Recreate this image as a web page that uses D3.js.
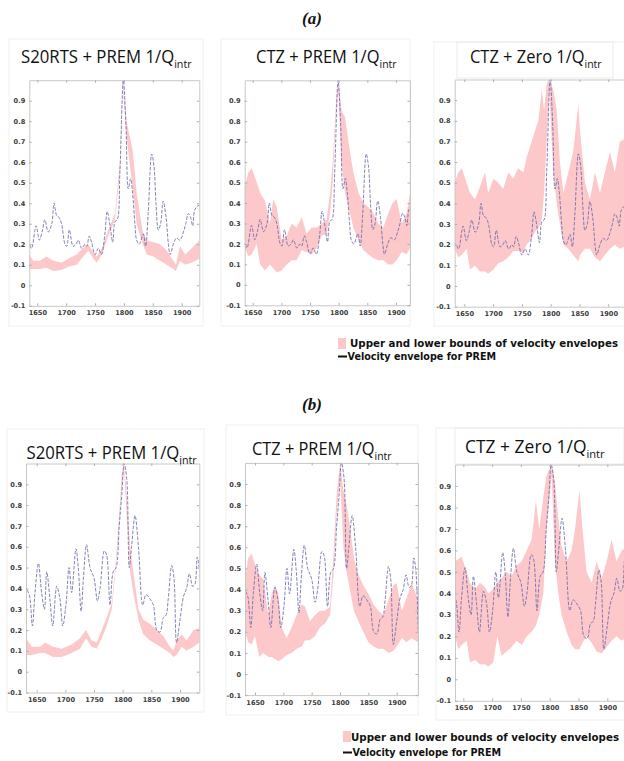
<!DOCTYPE html>
<html><head><meta charset="utf-8">
<script src="https://cdn.jsdelivr.net/npm/d3@7"></script>
<style>body{margin:0;background:#fff;} svg{display:block}</style>
</head><body>
<svg id="c" width="624" height="761"></svg>
<script>
// ---------- DATA ----------
const yTicks = [-0.1, 0, 0.1, 0.2, 0.3, 0.4, 0.5, 0.6, 0.7, 0.8, 0.9];
const yTickLabels = ["-0.1", "0", "0.1", "0.2", "0.3", "0.4", "0.5", "0.6", "0.7", "0.8", "0.9"];
const xTicks = [1650, 1700, 1750, 1800, 1850, 1900];
const xTickLabels = ["1650", "1700", "1750", "1800", "1850", "1900"];
const groupLabels = ["(a)", "(b)"];
const titleMain = ["S20RTS + PREM 1/Q", "CTZ + PREM 1/Q", "CTZ + Zero 1/Q"];
const titleSub = "intr";
const legendLabels = ["Upper and lower bounds of velocity envelopes", "Velocity envelope for PREM"];

// PREM velocity envelope, row (a)
const premAYears = [1630,1636,1640,1648,1653.5,1659,1663,1669,1675,1679,1683.5,1688,1692,1698,1701,1705.5,1712,1717,1721,1727,1732.5,1735.5,1740,1744,1750,1755.5,1761,1767,1771,1776,1780.5,1784.5,1788.5,1793,1799,1803.5,1807.5,1811.5,1815,1819,1822,1826.5,1833.5,1837.5,1842,1848,1852,1855.5,1859.5,1863.5,1868,1873,1877,1880,1885.5,1891,1897,1903,1907,1911.5,1915.5,1919,1923,1930.5,1940];
const premAValues = [0.21,0.20,0.18,0.29,0.22,0.27,0.32,0.26,0.30,0.40,0.34,0.33,0.30,0.20,0.19,0.27,0.19,0.20,0.22,0.18,0.20,0.19,0.24,0.21,0.15,0.18,0.15,0.25,0.36,0.29,0.21,0.31,0.32,0.55,1.0,0.78,0.47,0.52,0.45,0.30,0.22,0.20,0.25,0.19,0.35,0.64,0.58,0.40,0.27,0.30,0.41,0.33,0.20,0.15,0.20,0.23,0.22,0.26,0.30,0.35,0.33,0.29,0.37,0.39,0.36];

// PREM velocity envelope, row (b)
const premBYears = [1628,1631.5,1637,1642.5,1647,1653,1658.5,1663.5,1667.5,1673,1678,1685,1690.5,1695.5,1701,1706.5,1711,1718.5,1722.5,1727.5,1731.5,1737,1743,1750,1756,1760.5,1768,1772,1778,1783.5,1788.5,1794,1798.5,1802.5,1807,1811.5,1815.5,1821.5,1827.5,1835,1840.5,1847.5,1853.5,1859.5,1865,1871,1875.5,1879.5,1885.5,1889.5,1894,1900,1906,1911.5,1916.5,1922,1926,1930,1933.5,1938];
const premBValues = [0.41,0.40,0.37,0.22,0.38,0.52,0.38,0.30,0.48,0.35,0.22,0.41,0.35,0.22,0.32,0.50,0.38,0.59,0.50,0.29,0.45,0.61,0.50,0.45,0.34,0.40,0.58,0.56,0.32,0.48,0.50,0.70,0.85,1.0,0.93,0.50,0.60,0.75,0.60,0.32,0.37,0.35,0.32,0.20,0.19,0.26,0.27,0.35,0.51,0.45,0.14,0.25,0.36,0.40,0.47,0.41,0.42,0.55,0.50,0.20];

// (a) S20RTS + PREM 1/Q bounds
const bandA1Years = [1630,1636,1643,1654.5,1666,1677.5,1692,1703.5,1718,1732.5,1738.5,1747,1753,1761.5,1773,1784.5,1793,1798,1804.5,1815,1822,1832.5,1839.5,1851,1862.5,1874,1885.5,1890,1897,1906,1917,1930.5,1940];
const bandA1Lower = [0.08,0.08,0.08,0.08,0.085,0.07,0.075,0.09,0.10,0.15,0.17,0.13,0.11,0.15,0.24,0.32,0.55,0.97,0.72,0.48,0.30,0.20,0.15,0.14,0.12,0.10,0.08,0.07,0.12,0.10,0.11,0.13,0.13];
const bandA1Upper = [0.15,0.15,0.12,0.12,0.14,0.12,0.11,0.13,0.15,0.19,0.20,0.16,0.14,0.18,0.27,0.35,0.60,1.0,0.80,0.66,0.45,0.26,0.22,0.21,0.20,0.17,0.12,0.10,0.19,0.15,0.18,0.22,0.22];

// (a) CTZ + PREM 1/Q bounds
const bandA2Years = [1630,1636,1642.5,1648.5,1657,1663,1671.5,1680,1686,1692,1700.5,1709.5,1718,1726.5,1735.5,1744,1753,1761.5,1770.5,1779,1785,1789.5,1795.5,1799.5,1805,1811,1817,1825.5,1834.5,1843,1851.5,1860.5,1869,1878,1886.5,1894,1901,1910,1918.5,1924.5,1940];
const bandA2Lower = [0.18,0.18,0.14,0.15,0.20,0.10,0.07,0.10,0.08,0.06,0.07,0.10,0.12,0.12,0.17,0.16,0.15,0.18,0.24,0.25,0.35,0.50,0.85,0.95,0.60,0.45,0.38,0.28,0.22,0.17,0.15,0.13,0.12,0.12,0.10,0.10,0.12,0.16,0.15,0.18,0.18];
const bandA2Upper = [0.46,0.48,0.55,0.57,0.50,0.45,0.41,0.30,0.42,0.38,0.22,0.24,0.30,0.28,0.33,0.25,0.28,0.28,0.30,0.32,0.45,0.60,0.90,1.0,0.85,0.82,0.70,0.55,0.45,0.40,0.38,0.35,0.30,0.28,0.35,0.40,0.42,0.30,0.35,0.45,0.48];

// (a) CTZ + Zero 1/Q bounds
const bandA3Years = [1628,1633,1639.5,1645.5,1654,1660,1668.5,1677,1686,1691.5,1700.5,1709,1717.5,1726.5,1735,1743.5,1752.5,1758,1767,1772.5,1778.5,1784.5,1788.5,1793,1797.5,1804.5,1810.5,1816,1822,1830.5,1839,1848,1851,1859.5,1868,1877,1885.5,1894,1903,1911.5,1920,1935];
const bandA3Lower = [0.18,0.18,0.14,0.15,0.18,0.08,0.10,0.07,0.07,0.06,0.08,0.11,0.12,0.14,0.17,0.17,0.16,0.20,0.23,0.26,0.28,0.32,0.45,0.70,0.95,0.55,0.40,0.30,0.20,0.18,0.15,0.12,0.15,0.18,0.18,0.14,0.12,0.15,0.18,0.20,0.18,0.20];
const bandA3Upper = [0.48,0.50,0.55,0.57,0.50,0.45,0.42,0.48,0.55,0.45,0.52,0.50,0.47,0.55,0.52,0.57,0.55,0.62,0.70,0.75,0.80,0.95,0.85,0.98,1.0,0.95,0.85,0.60,0.45,0.55,0.65,0.88,0.75,0.50,0.42,0.55,0.45,0.55,0.65,0.55,0.70,0.72];

// (b) S20RTS + PREM 1/Q bounds
const bandB1Years = [1628,1631.5,1641.5,1656,1664.5,1679,1693.5,1711,1725.5,1736,1746,1754.5,1763.5,1772,1781,1786.5,1792.5,1798.5,1802.5,1807,1813,1818.5,1827.5,1836,1847.5,1859.5,1871,1882.5,1888.5,1894,1903,1911.5,1923.5,1934,1940];
const bandB1Lower = [0.08,0.08,0.08,0.09,0.09,0.07,0.07,0.09,0.11,0.16,0.12,0.11,0.16,0.22,0.30,0.45,0.65,0.88,0.97,0.75,0.48,0.38,0.25,0.18,0.15,0.13,0.11,0.09,0.07,0.08,0.12,0.10,0.12,0.14,0.14];
const bandB1Upper = [0.16,0.16,0.12,0.12,0.14,0.12,0.11,0.13,0.16,0.20,0.15,0.14,0.20,0.26,0.33,0.48,0.70,0.95,1.0,0.85,0.60,0.48,0.30,0.25,0.23,0.20,0.17,0.12,0.10,0.15,0.18,0.15,0.20,0.21,0.21];

// (b) CTZ + PREM 1/Q bounds
const bandB2Years = [1628,1632.5,1638,1644,1650,1657.5,1664.5,1673.5,1679.5,1685.5,1691,1697,1706,1714.5,1723.5,1732.5,1738,1747,1756,1764.5,1773.5,1782.5,1788,1794,1800,1806,1810.5,1817.5,1824.5,1832.5,1841,1850,1859,1867.5,1876.5,1885.5,1894,1900,1909,1917.5,1926.5,1938,1942];
const bandB2Lower = [0.20,0.20,0.15,0.14,0.18,0.08,0.10,0.08,0.08,0.07,0.06,0.07,0.09,0.10,0.12,0.13,0.16,0.16,0.18,0.22,0.24,0.28,0.45,0.75,0.93,0.60,0.50,0.40,0.30,0.25,0.20,0.15,0.13,0.12,0.12,0.10,0.11,0.13,0.17,0.15,0.17,0.15,0.15];
const bandB2Upper = [0.45,0.45,0.55,0.57,0.52,0.47,0.45,0.28,0.38,0.42,0.38,0.22,0.17,0.22,0.28,0.33,0.32,0.25,0.28,0.30,0.30,0.32,0.55,0.85,1.0,0.87,0.82,0.70,0.55,0.47,0.42,0.38,0.33,0.30,0.28,0.35,0.42,0.43,0.30,0.36,0.43,0.35,0.35];

// (b) CTZ + Zero 1/Q bounds
const bandB3Years = [1628,1635.5,1641.5,1647,1656,1661.5,1670.5,1679,1687.5,1693.5,1702,1709,1716.5,1725,1734,1742.5,1751.5,1760,1768.5,1776,1782,1789,1794.5,1803.5,1809,1815,1820.5,1829.5,1838,1844,1851.5,1857,1864,1873,1881.5,1890,1899,1907.5,1916,1925,1936.5];
const bandB3Lower = [0.20,0.20,0.14,0.16,0.18,0.08,0.09,0.07,0.07,0.06,0.08,0.20,0.11,0.13,0.15,0.18,0.16,0.20,0.22,0.25,0.30,0.40,0.70,0.95,0.55,0.40,0.30,0.22,0.16,0.14,0.14,0.17,0.20,0.17,0.13,0.12,0.15,0.18,0.20,0.18,0.20];
const bandB3Upper = [0.55,0.55,0.56,0.57,0.50,0.45,0.42,0.45,0.43,0.40,0.42,0.45,0.47,0.50,0.48,0.53,0.55,0.60,0.65,0.83,0.70,0.85,0.95,1.0,0.92,0.75,0.62,0.55,0.60,0.70,0.88,0.70,0.50,0.45,0.55,0.47,0.55,0.65,0.55,0.60,0.62];

// ---------- LAYOUT ----------
const BAND_FILL = "#fdc8c9";
const LINE_COLOR = "#6664ae";

const panels = [
  {band:[bandA1Years,bandA1Lower,bandA1Upper], line:[premAYears,premAValues], title:0,
   x0:29.3, x1:199.3, p1650:37.3, p1900:181.7, yTop:80.2, yBot:305.8,
   tx0:21, tx1:192, tBase:63, frame:[9,39,203,326]},
  {band:[bandA2Years,bandA2Lower,bandA2Upper], line:[premAYears,premAValues], title:1,
   x0:244.7, x1:410, p1650:252.7, p1900:396, yTop:80.3, yBot:305.3,
   tx0:256, tx1:397, tBase:63, frame:[221,39,410,326]},
  {band:[bandA3Years,bandA3Lower,bandA3Upper], line:[premAYears,premAValues], title:2,
   x0:454.7, x1:626, p1650:464.3, p1900:608.3, yTop:79.5, yBot:306.7,
   tx0:470, tx1:602, tBase:63, frame:[434,42,630,326], tbox:[457,42,613,78]},
  {band:[bandB1Years,bandB1Lower,bandB1Upper], line:[premBYears,premBValues], title:0,
   x0:26, x1:199.3, p1650:36.7, p1900:180, yTop:463.5, yBot:692.5,
   tx0:26.5, tx1:197, tBase:459, frame:[7,429,204,712]},
  {band:[bandB2Years,bandB2Lower,bandB2Upper], line:[premBYears,premBValues], title:1,
   x0:245, x1:418, p1650:255, p1900:396.7, yTop:462.9, yBot:695.1,
   tx0:252, tx1:392, tBase:455, frame:[226,425,418,715]},
  {band:[bandB3Years,bandB3Lower,bandB3Upper], line:[premBYears,premBValues], title:2,
   x0:455, x1:626, p1650:463.3, p1900:607.3, yTop:464.5, yBot:700.8,
   tx0:465, tx1:605, tBase:453, frame:[436,428,630,720], tbox:[455,428,624,464]}
];

const svg = d3.select("#c");
svg.append("rect").attr("width",624).attr("height",761).attr("fill","#fff");
const defs = svg.append("defs");

panels.forEach((p,i) => {
  const g = svg.append("g");
  g.append("rect").attr("x",p.frame[0]).attr("y",p.frame[1])
    .attr("width",p.frame[2]-p.frame[0]).attr("height",p.frame[3]-p.frame[1])
    .attr("fill","none").attr("stroke","#f0f0f0").attr("stroke-width",1);
  if (p.tbox) {
    g.append("rect").attr("x",p.tbox[0]).attr("y",p.tbox[1])
      .attr("width",p.tbox[2]-p.tbox[0]).attr("height",p.tbox[3]-p.tbox[1])
      .attr("fill","none").attr("stroke","#ebebeb").attr("stroke-width",1);
  }

  const xb = d3.scaleLinear().domain([1650,1900]).range([p.p1650,p.p1900]);
  const x = d3.scaleLinear().domain([xb.invert(p.x0), xb.invert(p.x1)]).range([p.x0,p.x1]);
  const y = d3.scaleLinear().domain([-0.1,1.0]).range([p.yBot,p.yTop]);

  const cid = "clip"+i;
  defs.append("clipPath").attr("id",cid).append("rect")
    .attr("x",p.x0).attr("y",p.yTop).attr("width",p.x1-p.x0).attr("height",p.yBot-p.yTop);

  const bandData = p.band[0].map((yr,k)=>({yr, lo:p.band[1][k], hi:p.band[2][k]}));
  const lineData = p.line[0].map((yr,k)=>({yr, v:p.line[1][k]}));

  const plot = g.append("g").attr("clip-path",`url(#${cid})`);
  plot.append("path").datum(bandData)
    .attr("fill",BAND_FILL)
    .attr("d", d3.area().x(d=>x(d.yr)).y0(d=>y(d.lo)).y1(d=>y(d.hi)).curve(d3.curveLinear));
  plot.append("path").datum(lineData)
    .attr("fill","none").attr("stroke",LINE_COLOR).attr("stroke-width",1)
    .attr("stroke-dasharray","3.5,1.5").attr("opacity",0.8)
    .attr("d", d3.line().x(d=>x(d.yr)).y(d=>y(d.v)).curve(d3.curveCatmullRom.alpha(0.5)));

  g.append("g").attr("transform",`translate(0,${p.yBot})`)
    .call(d3.axisBottom(x).tickValues(xTicks).tickFormat((d,k)=>xTickLabels[k]).tickSize(-2.5).tickSizeOuter(0).tickPadding(5));
  g.append("g").attr("transform",`translate(${p.x0},0)`)
    .call(d3.axisLeft(y).tickValues(yTicks).tickFormat((d,k)=>yTickLabels[k]).tickSize(-2.5).tickSizeOuter(0).tickPadding(4));
  g.append("g").attr("transform",`translate(0,${p.yTop})`)
    .call(d3.axisTop(x).tickValues(xTicks).tickFormat("").tickSize(-2.5).tickSizeOuter(0));
  if (p.x1 < 620) {
    g.append("g").attr("transform",`translate(${p.x1},0)`)
      .call(d3.axisRight(y).tickValues(yTicks).tickFormat("").tickSize(-2.5).tickSizeOuter(0));
  }
  g.selectAll(".domain").attr("stroke","#c8c8c8").attr("stroke-width",1);
  g.selectAll(".tick line").attr("stroke","#b0b0b0");
  g.selectAll(".tick text").attr("font-family","DejaVu Sans").attr("font-weight","bold")
    .attr("font-size","6.6px").attr("fill","#3a3a3a");

  // title: fixed glyph height, horizontally fitted
  const t = g.append("text")
    .attr("font-family","Open Sans, Noto Sans, sans-serif").attr("font-size","18px").attr("fill","#111");
  t.append("tspan").text(titleMain[p.title]);
  t.append("tspan").attr("dy",4.5).attr("font-size","11.5px").text(titleSub);
  const w = t.node().getBBox().width;
  const sx = (p.tx1 - p.tx0) / w;
  t.attr("transform",`translate(${p.tx0},${p.tBase}) scale(${sx},1)`);
});

[[312,24],[312,410]].forEach((pos,k)=>{
  svg.append("text").attr("x",pos[0]).attr("y",pos[1]).attr("text-anchor","middle")
    .attr("font-family","Liberation Serif, Times New Roman, serif").attr("font-weight","bold")
    .attr("font-style","italic").attr("font-size","17px").attr("fill","#111").text(groupLabels[k]);
});

[[338,338,350,347,360],[343,731,351,741,756]].forEach(L=>{
  svg.append("rect").attr("x",L[0]).attr("y",L[1]).attr("width",8).attr("height",11).attr("fill",BAND_FILL);
  svg.append("text").attr("x",L[2]).attr("y",L[3])
    .attr("font-family","DejaVu Sans").attr("font-weight","bold").attr("font-size","9.6px").attr("fill","#111")
    .attr("textLength",268).attr("lengthAdjust","spacingAndGlyphs").text(legendLabels[0]);
  svg.append("line").attr("x1",L[0]).attr("x2",L[0]+9).attr("y1",L[4]-3.5).attr("y2",L[4]-3.5)
    .attr("stroke","#111").attr("stroke-width",2);
  svg.append("text").attr("x",L[0]+9.5).attr("y",L[4])
    .attr("font-family","DejaVu Sans").attr("font-weight","bold").attr("font-size","9.6px").attr("fill","#111")
    .text(legendLabels[1]);
});
</script>
</body></html>
